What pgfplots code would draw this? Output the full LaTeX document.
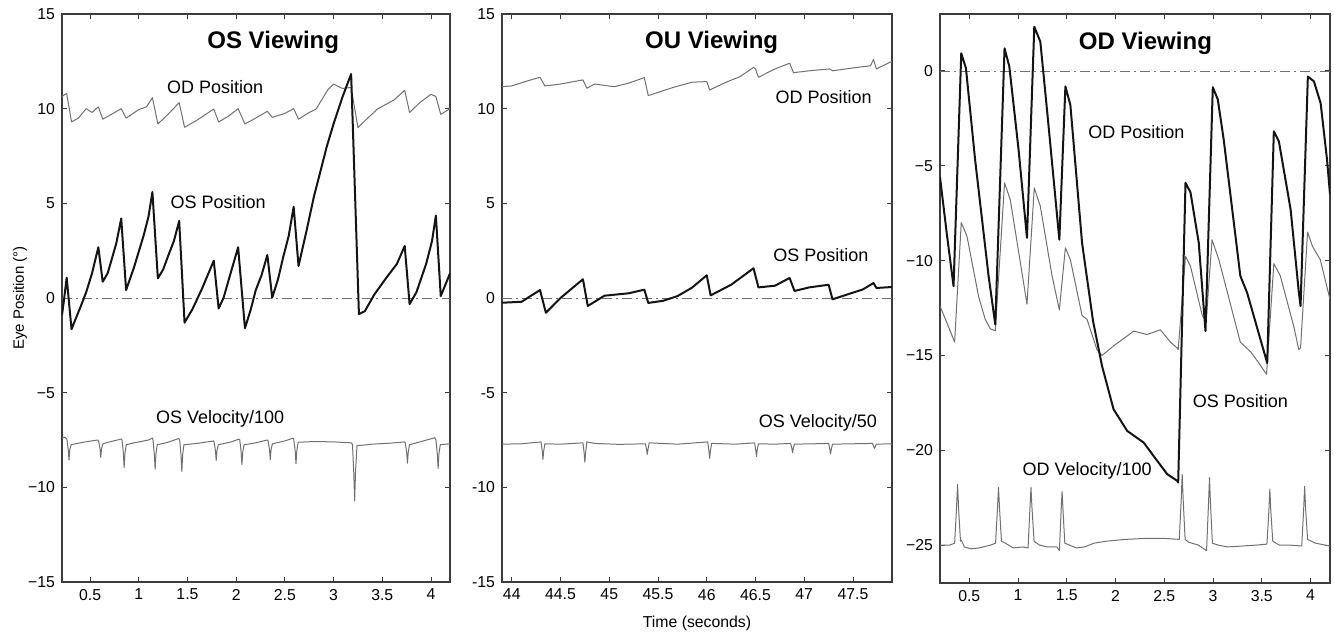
\documentclass[border=0pt]{standalone}
\usepackage{fontspec}
\setmainfont{Liberation Sans}
\usepackage{pgfplots}
\pgfplotsset{compat=1.18}
\definecolor{tr}{RGB}{112,112,112}
\definecolor{ax}{RGB}{60,60,60}
\definecolor{bk}{RGB}{20,20,20}
\pgfplotsset{panel/.style={scale only axis, width=194pt, height=284pt, anchor=south west,
  axis line style={ax, line width=0.6pt}, tick style={ax, line width=0.5pt},
  major tick length=2.5pt, tick align=inside, xtick pos=both, ytick pos=both,
  tick label style={font=\fontsize{7.9}{8.5}\selectfont},
  /pgf/number format/assume math mode=true,
  every axis plot/.append style={line join=round}}}
\tikzset{gr/.style={tr, line width=0.5pt}, bl/.style={bk, line width=1pt},
  zl/.style={tr, line width=0.4pt, dash pattern=on 5pt off 2pt on 1pt off 2pt},
  lab/.style={font=\fontsize{9}{10}\selectfont},
  ttl/.style={font=\bfseries\fontsize{12}{13}\selectfont}}
\begin{document}
\begin{tikzpicture}
\useasboundingbox (0,0) rectangle (667pt,316.5pt);
% ---------------- Panel 1
\begin{axis}[panel, at={(31pt,25.5pt)}, xmin=0.212, xmax=4.195, ymin=-15, ymax=15,
  xtick={0.5,1,1.5,2,2.5,3,3.5,4}, ytick={-15,-10,-5,0,5,10,15},
  yticklabels={−15,−10,−5,0,5,10,15}]
\addplot[zl] coordinates {(0.212,0) (4.195,0)};
\addplot[gr] coordinates {(0.212,10.63) (0.24,10.75) (0.26,10.8) (0.31,9.3) (0.38,9.5) (0.46,10.0) (0.52,9.8) (0.585,10.1) (0.63,9.45) (0.72,9.7) (0.82,10.0) (0.87,9.5) (1.0,9.95) (1.08,10.1) (1.14,10.58) (1.196,9.19) (1.3,9.7) (1.415,10.32) (1.47,9.02) (1.6,9.4) (1.77,9.98) (1.82,9.3) (1.92,9.6) (2.02,10.0) (2.09,9.19) (2.2,9.5) (2.32,9.86) (2.37,9.54) (2.5,9.75) (2.59,10.0) (2.64,9.45) (2.75,9.8) (2.82,9.98) (2.94,10.99) (3.0,11.3) (3.09,11.07) (3.18,11.12) (3.25,9.0) (3.35,9.5) (3.45,9.98) (3.62,10.46) (3.73,10.97) (3.78,9.8) (3.88,10.3) (4.0,10.76) (4.05,10.64) (4.10,9.7) (4.195,10.0)};
\addplot[bl] coordinates {(0.212,-0.9) (0.23,-0.2) (0.26,1.07) (0.31,-1.65) (0.36,-1.0) (0.40,-0.5) (0.46,0.3) (0.52,1.3) (0.585,2.68) (0.63,0.86) (0.68,1.3) (0.72,2.0) (0.77,2.9) (0.82,4.2) (0.87,0.42) (0.95,1.6) (1.05,3.3) (1.10,4.3) (1.14,5.6) (1.196,1.04) (1.25,1.5) (1.30,2.2) (1.36,3.0) (1.415,4.07) (1.47,-1.3) (1.55,-0.6) (1.65,0.5) (1.77,1.97) (1.82,-0.55) (1.87,0.0) (1.92,0.9) (2.02,2.68) (2.09,-1.6) (2.15,-0.6) (2.2,0.4) (2.26,1.2) (2.32,2.27) (2.37,0.02) (2.43,1.0) (2.48,2.1) (2.54,3.3) (2.59,4.82) (2.64,1.69) (2.72,3.5) (2.80,5.4) (2.86,6.59) (2.93,8.0) (3.0,9.2) (3.09,10.6) (3.18,11.83) (3.26,-0.85) (3.32,-0.7) (3.42,0.2) (3.55,1.13) (3.65,1.8) (3.73,2.75) (3.78,-0.32) (3.85,0.3) (3.95,1.8) (4.01,3.0) (4.05,4.35) (4.10,0.1) (4.195,1.3)};
\addplot[gr] coordinates {(0.212,-7.4) (0.24,-7.35) (0.262,-7.45) (0.276,-8.0) (0.284,-8.56) (0.292,-8.0) (0.306,-7.75) (0.35,-7.7) (0.45,-7.6) (0.58,-7.5) (0.588,-7.55) (0.602,-7.95) (0.61,-8.42) (0.618,-7.95) (0.632,-7.7) (0.7,-7.6) (0.82,-7.45) (0.828,-7.5) (0.842,-8.2) (0.85,-8.96) (0.858,-8.2) (0.872,-7.75) (0.95,-7.65) (1.10,-7.5) (1.14,-7.4) (1.146,-7.5) (1.16,-8.25) (1.168,-9.05) (1.176,-8.25) (1.19,-7.75) (1.3,-7.62) (1.41,-7.42) (1.42,-7.5) (1.434,-8.3) (1.442,-9.17) (1.45,-8.3) (1.464,-7.75) (1.6,-7.68) (1.77,-7.55) (1.773,-7.6) (1.787,-8.05) (1.795,-8.58) (1.803,-8.05) (1.817,-7.75) (1.95,-7.6) (2.03,-7.45) (2.037,-7.5) (2.051,-8.15) (2.059,-8.8) (2.067,-8.15) (2.081,-7.75) (2.2,-7.65) (2.32,-7.5) (2.328,-7.55) (2.342,-8.0) (2.35,-8.54) (2.358,-8.0) (2.372,-7.7) (2.5,-7.55) (2.585,-7.4) (2.592,-7.5) (2.606,-8.1) (2.614,-8.75) (2.622,-8.1) (2.636,-7.62) (2.8,-7.58) (3.0,-7.6) (3.185,-7.65) (3.194,-7.75) (3.207,-9.2) (3.216,-10.72) (3.225,-9.2) (3.24,-7.8) (3.4,-7.72) (3.6,-7.66) (3.73,-7.6) (3.736,-7.65) (3.75,-8.15) (3.758,-8.72) (3.766,-8.15) (3.78,-7.75) (3.9,-7.58) (4.04,-7.38) (4.051,-7.5) (4.065,-8.25) (4.073,-9.0) (4.081,-8.25) (4.095,-7.75) (4.195,-7.7)};
\node[ttl] at (axis cs:2.38,13.52) {OS Viewing};
\node[lab] at (axis cs:1.785,11.15) {OD Position};
\node[lab] at (axis cs:1.815,5.07) {OS Position};
\node[lab] at (axis cs:1.836,-6.39) {OS Velocity/100};
\end{axis}
% ---------------- Panel 2
\begin{axis}[panel, at={(251pt,25.5pt)}, width=195pt, xmin=43.9, xmax=47.9, ymin=-15, ymax=15,
  xtick={44,44.5,45,45.5,46,46.5,47,47.5}, xticklabels={44,44.5,45,45.5,46,46.5,47,47.5},
  ytick={-15,-10,-5,0,5,10,15}, yticklabels={-15,-10,-5,0,5,10,15}]
\addplot[zl] coordinates {(43.9,0) (47.9,0)};
\addplot[gr] coordinates {(43.9,11.16) (44.0,11.2) (44.15,11.45) (44.29,11.66) (44.34,11.2) (44.5,11.3) (44.73,11.52) (44.77,11.08) (44.85,11.3) (45.05,11.16) (45.2,11.35) (45.36,11.64) (45.40,10.69) (45.66,11.13) (45.85,11.4) (46.0,11.43) (46.03,10.99) (46.2,11.4) (46.34,11.69) (46.48,12.18) (46.5,12.1) (46.53,11.66) (46.7,12.1) (46.85,12.4) (46.89,11.9) (47.05,12.0) (47.26,12.1) (47.29,12.0) (47.5,12.15) (47.68,12.27) (47.71,12.6) (47.74,12.1) (47.9,12.5)};
\addplot[bl] coordinates {(43.9,-0.25) (44.1,-0.2) (44.29,0.42) (44.35,-0.78) (44.5,0.0) (44.73,0.99) (44.78,-0.42) (44.85,-0.2) (44.95,0.12) (45.2,0.25) (45.36,0.44) (45.40,-0.26) (45.55,-0.15) (45.7,0.1) (45.85,0.55) (46.0,1.2) (46.04,0.14) (46.25,0.7) (46.48,1.57) (46.53,0.56) (46.7,0.65) (46.85,1.06) (46.9,0.37) (47.05,0.56) (47.25,0.7) (47.29,-0.07) (47.45,0.2) (47.6,0.45) (47.71,0.79) (47.74,0.53) (47.9,0.58)};
\addplot[gr] coordinates {(43.9,-7.72) (44.1,-7.7) (44.3,-7.6) (44.313,-8.1) (44.32,-8.52) (44.327,-8.1) (44.34,-7.7) (44.5,-7.72) (44.73,-7.65) (44.743,-8.2) (44.75,-8.68) (44.757,-8.2) (44.77,-7.6) (44.85,-7.68) (45.1,-7.73) (45.37,-7.7) (45.383,-8.0) (45.39,-8.26) (45.397,-8.0) (45.41,-7.65) (45.7,-7.72) (46.01,-7.6) (46.023,-8.1) (46.03,-8.47) (46.037,-8.1) (46.05,-7.68) (46.3,-7.72) (46.49,-7.65) (46.503,-8.05) (46.51,-8.38) (46.517,-8.05) (46.53,-7.7) (46.7,-7.72) (46.86,-7.68) (46.873,-7.95) (46.88,-8.17) (46.887,-7.95) (46.9,-7.72) (47.1,-7.7) (47.25,-7.68) (47.263,-8.0) (47.27,-8.24) (47.277,-8.0) (47.29,-7.72) (47.5,-7.7) (47.7,-7.68) (47.72,-7.94) (47.74,-7.72) (47.9,-7.7)};
\node[ttl] at (axis cs:46.05,13.52) {OU Viewing};
\node[lab] at (axis cs:47.2,10.62) {OD Position};
\node[lab] at (axis cs:47.17,2.27) {OS Position};
\node[lab] at (axis cs:47.14,-6.6) {OS Velocity/50};
\end{axis}
% ---------------- Panel 3
\begin{axis}[panel, at={(470pt,25pt)}, width=195pt, height=284.5pt, xmin=0.2, xmax=4.2, ymin=-27, ymax=3,
  xtick={0.5,1,1.5,2,2.5,3,3.5,4}, ytick={-25,-20,-15,-10,-5,0},
  yticklabels={−25,−20,−15,−10,−5,0}]
\addplot[zl] coordinates {(0.2,0) (4.2,0)};
\addplot[gr] coordinates {(0.2,-12.4) (0.28,-13.4) (0.35,-14.3) (0.418,-8.0) (0.476,-8.7) (0.596,-11.9) (0.664,-13.1) (0.716,-13.6) (0.767,-13.7) (0.862,-5.9) (0.921,-6.8) (1.041,-10.65) (1.092,-12.3) (1.167,-6.17) (1.229,-7.14) (1.349,-10.8) (1.424,-12.6) (1.486,-9.33) (1.537,-9.95) (1.657,-12.9) (1.708,-13.1) (1.81,-14.7) (1.862,-15.0) (1.98,-14.5) (2.187,-13.72) (2.324,-13.9) (2.46,-13.65) (2.564,-14.3) (2.63,-14.6) (2.643,-14.7) (2.718,-9.77) (2.769,-10.3) (2.89,-12.9) (2.93,-13.2) (2.99,-8.9) (3.06,-9.95) (3.28,-14.3) (3.385,-14.8) (3.47,-15.4) (3.549,-16.0) (3.624,-10.16) (3.69,-10.8) (3.83,-13.5) (3.88,-14.7) (3.898,-14.6) (3.97,-8.5) (4.02,-9.25) (4.10,-9.95) (4.2,-12.05)};
\addplot[bl] coordinates {(0.2,-5.6) (0.27,-8.6) (0.339,-11.35) (0.418,0.93) (0.466,0.14) (0.56,-4.68) (0.698,-10.8) (0.767,-13.37) (0.862,1.19) (0.911,0.23) (1.006,-4.16) (1.092,-8.8) (1.167,2.33) (1.229,1.54) (1.314,-2.93) (1.424,-8.9) (1.486,-0.82) (1.537,-1.79) (1.657,-9.07) (1.77,-13.2) (1.862,-15.56) (1.98,-17.84) (2.12,-18.98) (2.29,-19.6) (2.39,-20.3) (2.53,-21.26) (2.63,-21.6) (2.643,-21.7) (2.718,-5.9) (2.769,-6.4) (2.854,-9.07) (2.923,-13.72) (2.998,-0.86) (3.049,-1.5) (3.11,-3.63) (3.28,-10.8) (3.35,-11.7) (3.556,-15.4) (3.624,-3.19) (3.676,-3.72) (3.796,-7.3) (3.881,-11.7) (3.898,-12.4) (3.973,-0.3) (4.035,-0.55) (4.104,-1.7) (4.17,-4.7) (4.2,-6.5)};
\addplot[gr] coordinates {(0.2,-25.0) (0.30,-25.0) (0.35,-24.9) (0.37,-23.0) (0.38,-21.8) (0.39,-23.0) (0.41,-24.8) (0.42,-24.75) (0.45,-25.1) (0.52,-25.2) (0.60,-25.15) (0.72,-25.0) (0.77,-24.9) (0.79,-23.0) (0.80,-21.96) (0.81,-23.0) (0.83,-24.8) (0.87,-24.9) (0.95,-25.15) (1.05,-25.1) (1.103,-25.15) (1.123,-23.0) (1.133,-21.96) (1.143,-23.0) (1.165,-24.8) (1.22,-25.0) (1.30,-25.1) (1.40,-25.1) (1.425,-25.3) (1.442,-23.2) (1.452,-22.18) (1.462,-23.2) (1.48,-24.9) (1.55,-25.05) (1.60,-25.15) (1.68,-25.1) (1.78,-24.9) (1.9,-24.8) (2.1,-24.7) (2.3,-24.65) (2.5,-24.65) (2.654,-24.7) (2.674,-22.6) (2.684,-21.26) (2.694,-22.6) (2.714,-24.7) (2.75,-24.85) (2.85,-25.0) (2.934,-25.3) (2.954,-22.8) (2.964,-21.44) (2.974,-22.8) (2.994,-24.9) (3.05,-25.0) (3.15,-25.1) (3.3,-25.05) (3.45,-25.0) (3.553,-24.95) (3.573,-23.2) (3.583,-22.05) (3.593,-23.2) (3.613,-24.8) (3.68,-25.0) (3.78,-25.0) (3.91,-25.05) (3.93,-23.1) (3.94,-21.9) (3.95,-23.1) (3.97,-24.7) (4.05,-24.9) (4.2,-25.05)};
\node[ttl] at (axis cs:2.307,1.47) {OD Viewing};
\node[lab] at (axis cs:2.215,-3.21) {OD Position};
\node[lab] at (axis cs:3.28,-17.42) {OS Position};
\node[lab] at (axis cs:1.71,-21.1) {OD Velocity/100};
\end{axis}
\node[rotate=90, font=\fontsize{7.5}{8}\selectfont] at (10pt,167.5pt) {Eye Position (°)};
\node[font=\fontsize{7.9}{8.5}\selectfont] at (348.5pt,5pt) {Time (seconds)};
\end{tikzpicture}
\end{document}
